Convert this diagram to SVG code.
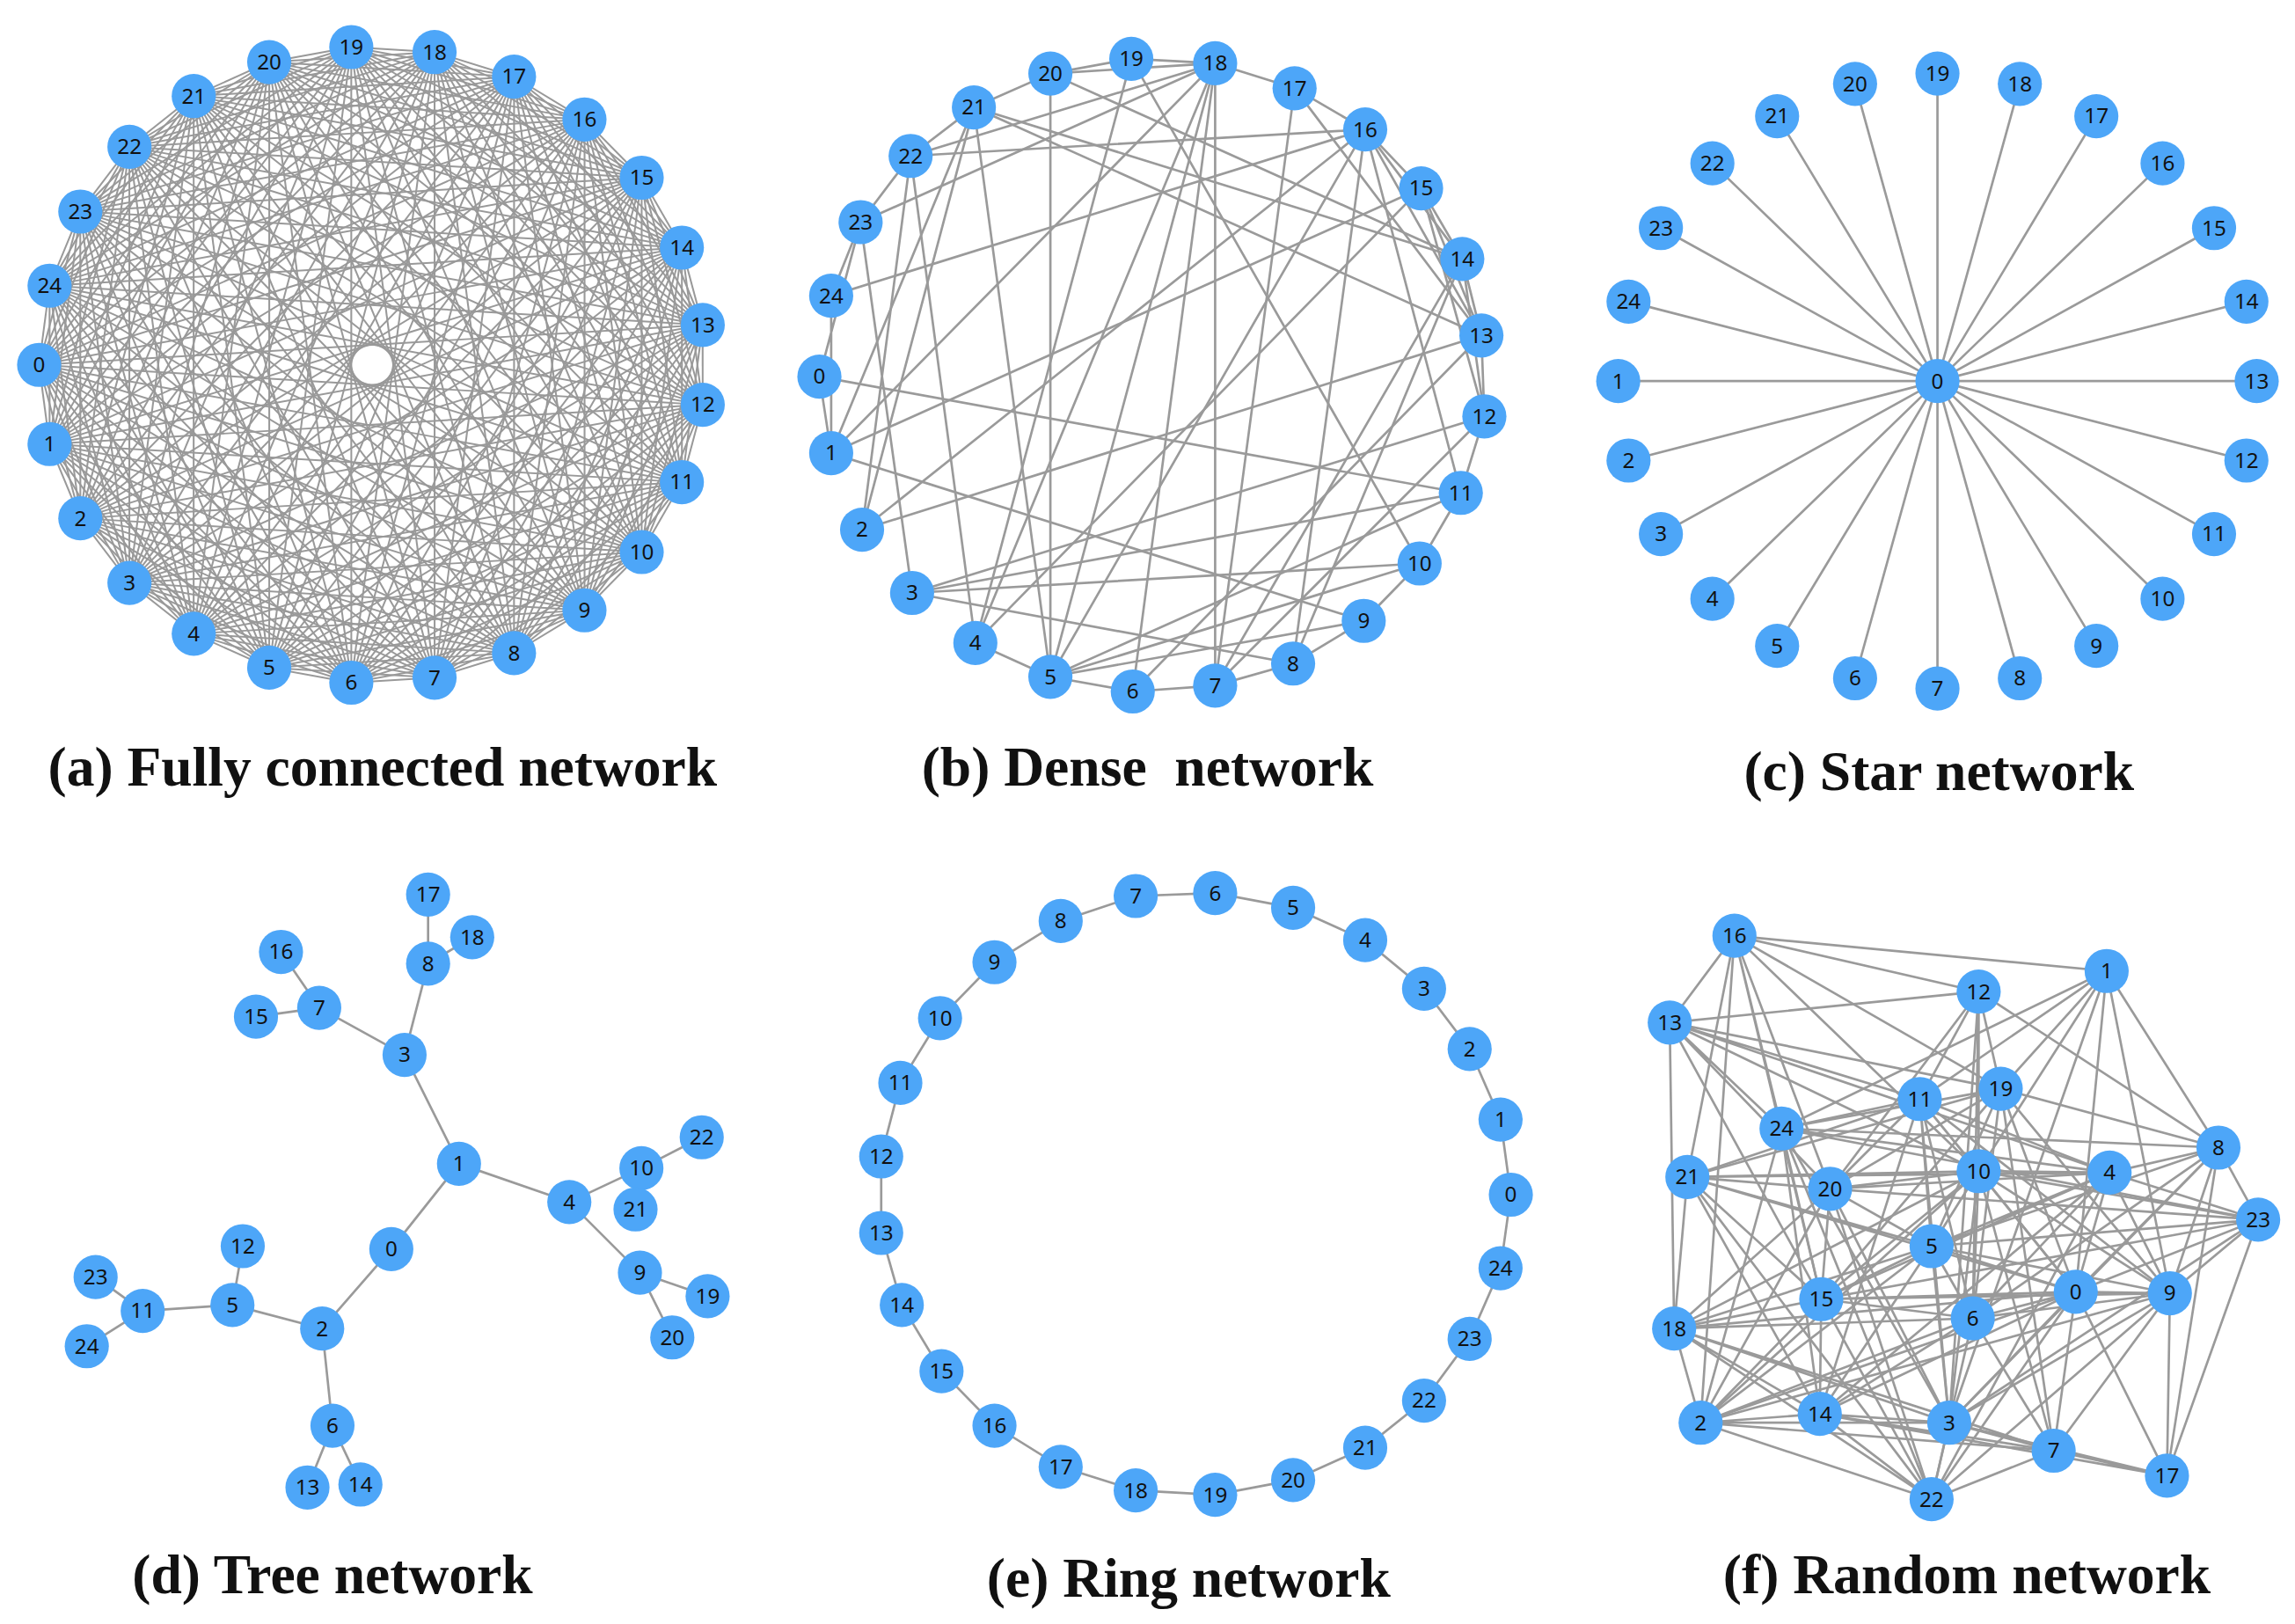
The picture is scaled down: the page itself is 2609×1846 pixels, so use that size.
<svg xmlns="http://www.w3.org/2000/svg" xmlns:xlink="http://www.w3.org/1999/xlink" width="2609" height="1846" viewBox="0 0 2609 1846">
<style>
.e{stroke:#9a9a9a;stroke-width:1.6;fill:none;stroke-linecap:round}
.ea{stroke:#999;stroke-width:1.2;fill:none}
circle{fill:#4da6f8}
.nd text{font-family:"Noto Sans","DejaVu Sans",sans-serif;font-size:14.5px;fill:#111;text-anchor:middle}
.ttl{font-family:"Liberation Serif","Times New Roman",serif;font-weight:bold;font-size:38px;fill:#111;text-anchor:middle}
</style>
<defs>
<g id="chords">
<line x1="-222" y1="0" x2="-215" y2="55.2"/><line x1="-222" y1="0" x2="-194.5" y2="107"/><line x1="-222" y1="0" x2="-161.8" y2="152"/><line x1="-222" y1="0" x2="-118.9" y2="187.4"/><line x1="-222" y1="0" x2="-68.6" y2="211.1"/><line x1="-222" y1="0" x2="-13.9" y2="221.6"/><line x1="-222" y1="0" x2="41.6" y2="218.1"/><line x1="-222" y1="0" x2="94.5" y2="200.9"/><line x1="-222" y1="0" x2="141.5" y2="171.1"/><line x1="-222" y1="0" x2="179.6" y2="130.5"/><line x1="-222" y1="0" x2="206.4" y2="81.7"/><line x1="-222" y1="0" x2="220.3" y2="27.8"/>
</g>
</defs>
<rect width="2609" height="1846" fill="#fff"/>
<g transform="scale(1.6724)">
<g id="connectors">
<g class="ea" transform="translate(253,248) scale(1.02,0.975)">
<use xlink:href="#chords"/><use xlink:href="#chords" transform="rotate(-14.4)"/><use xlink:href="#chords" transform="rotate(-28.8)"/><use xlink:href="#chords" transform="rotate(-43.2)"/><use xlink:href="#chords" transform="rotate(-57.6)"/><use xlink:href="#chords" transform="rotate(-72)"/><use xlink:href="#chords" transform="rotate(-86.4)"/><use xlink:href="#chords" transform="rotate(-100.8)"/><use xlink:href="#chords" transform="rotate(-115.2)"/><use xlink:href="#chords" transform="rotate(-129.6)"/><use xlink:href="#chords" transform="rotate(-144)"/><use xlink:href="#chords" transform="rotate(-158.4)"/><use xlink:href="#chords" transform="rotate(-172.8)"/><use xlink:href="#chords" transform="rotate(-187.2)"/><use xlink:href="#chords" transform="rotate(-201.6)"/><use xlink:href="#chords" transform="rotate(-216)"/><use xlink:href="#chords" transform="rotate(-230.4)"/><use xlink:href="#chords" transform="rotate(-244.8)"/><use xlink:href="#chords" transform="rotate(-259.2)"/><use xlink:href="#chords" transform="rotate(-273.6)"/><use xlink:href="#chords" transform="rotate(-288)"/><use xlink:href="#chords" transform="rotate(-302.4)"/><use xlink:href="#chords" transform="rotate(-316.8)"/><use xlink:href="#chords" transform="rotate(-331.2)"/><use xlink:href="#chords" transform="rotate(-345.6)"/>
</g>
<g class="e" id="b-edges">
<path d="M769 40L714 50M769 40L826 43M769 40L663 437M769 40L965 383"/>
<path d="M826 43L714 50M826 43L880 60M826 43L619 106M826 43L585 151M826 43L565 308M826 43L663 437M826 43L714 460M826 43L826 466M826 43L770 470"/>
<path d="M880 60L928 88M880 60L826 466M880 60L1007 228"/>
<path d="M928 88L966 128M928 88L714 460M928 88L586 360M928 88L619 106M928 88L565 201M928 88L879 451M928 88L993 335M928 88L1007 228M928 88L994 176"/>
<path d="M966 128L565 308M966 128L663 437M966 128L1007 228M966 128L1009 283M966 128L994 176"/>
<path d="M994 176L1007 228M994 176L1009 283M994 176L826 466M994 176L879 451"/>
<path d="M1007 228L1009 283M1007 228L586 360M1007 228L662 73M1007 228L770 470"/>
<path d="M1009 283L993 335M1009 283L620 403M1009 283L826 466"/>
<path d="M993 335L965 383M993 335L557 256M993 335L620 403M993 335L714 460"/>
<path d="M965 383L927 422M965 383L620 403M965 383L714 460"/>
<path d="M927 422L879 451M927 422L714 460M927 422L565 308"/>
<path d="M879 451L826 466M879 451L620 403M826 466L770 470M770 470L714 460"/>
<path d="M714 460L663 437M714 460L714 50M714 460L662 73M663 437L619 106"/>
<path d="M662 73L714 50M662 73L619 106M662 73L565 308M662 73L586 360M662 73L994 176"/>
<path d="M619 106L585 151M619 106L586 360M585 151L565 201M585 151L620 403M585 151L557 256M565 201L565 308M557 256L565 308M714 50L994 176"/>
</g>
<g class="e" id="c-edges">
<path d="M1317 259L1100 259M1317 259L1107 313M1317 259L1129 363M1317 259L1164 407M1317 259L1208 439M1317 259L1261 461M1317 259L1317 468M1317 259L1373 461M1317 259L1425 439M1317 259L1470 407M1317 259L1505 363M1317 259L1527 313M1317 259L1534 259M1317 259L1527 205M1317 259L1505 155M1317 259L1470 111M1317 259L1425 79M1317 259L1373 57M1317 259L1317 50M1317 259L1261 57M1317 259L1208 79M1317 259L1164 111M1317 259L1129 155M1317 259L1107 205"/>
</g>
<g class="e" id="d-edges">
<path d="M291 608L291 655M321 637L291 655M291 655L275 717M191 647L217 685M174 691L217 685M217 685L275 717M275 717L312 791M312 791L387 817M312 791L266 849M387 817L436 794M436 794L477 773M436 794L432 822M387 817L435 865M435 865L481 881M435 865L457 909M266 849L219 903M219 903L158 887M158 887L165 847M158 887L97 891M97 891L65 868M97 891L59 915M219 903L226 969M226 969L209 1011M226 969L245 1009"/>
</g>
<g class="e" id="e-edges">
<path d="M1027 812L1020 761L999 713L968 672L928 639L879 617L826 607L772 609L721 626L676 654L639 692L612 736L599 786L599 838L613 887L640 932L676 969L721 997L772 1013L826 1016L879 1006L928 984L968 952L999 910L1020 862Z"/>
</g>
<g class="e" id="f-edges">
<path d="M1179 636L1432 660M1179 636L1345 674M1179 636L1135 695M1179 636L1147 800M1179 636L1156 967M1179 636L1211 767M1179 636L1244 808M1179 636L1238 883M1179 636L1345 796M1179 636L1360 740"/>
<path d="M1432 660L1305 747M1432 660L1360 740M1432 660L1345 796M1432 660L1411 878M1432 660L1508 780M1432 660L1475 879M1432 660L1325 967M1432 660L1211 767"/>
<path d="M1345 674L1135 695M1345 674L1305 747M1345 674L1360 740M1345 674L1345 796M1345 674L1341 896M1345 674L1244 808M1345 674L1508 780M1345 674L1325 967"/>
<path d="M1135 695L1138 903M1135 695L1211 767M1135 695L1305 747M1135 695L1360 740M1135 695L1345 796M1135 695L1434 797M1135 695L1244 808M1135 695L1238 883"/>
<path d="M1305 747L1211 767M1305 747L1147 800M1305 747L1244 808M1305 747L1345 796M1305 747L1411 878M1305 747L1313 847M1305 747L1434 797M1305 747L1475 879M1305 747L1341 896M1305 747L1325 967M1305 747L1237 961"/>
<path d="M1360 740L1211 767M1360 740L1147 800M1360 740L1244 808M1360 740L1313 847M1360 740L1411 878M1360 740L1475 879M1360 740L1341 896M1360 740L1396 986M1360 740L1238 883M1360 740L1508 780"/>
<path d="M1211 767L1508 780M1211 767L1434 797M1211 767L1535 829M1211 767L1238 883M1211 767L1237 961M1211 767L1325 967M1211 767L1313 1019M1211 767L1156 967"/>
<path d="M1508 780L1434 797M1508 780L1535 829M1508 780L1411 878M1508 780L1475 879M1508 780L1473 1003M1508 780L1313 847M1508 780L1341 896M1508 780L1325 967"/>
<path d="M1147 800L1138 903M1147 800L1244 808M1147 800L1345 796M1147 800L1434 797M1147 800L1313 847M1147 800L1238 883M1147 800L1411 878M1147 800L1237 961M1147 800L1313 1019"/>
<path d="M1345 796L1244 808M1345 796L1434 797M1345 796L1535 829M1345 796L1313 847M1345 796L1238 883M1345 796L1411 878M1345 796L1475 879M1345 796L1341 896M1345 796L1325 967M1345 796L1396 986M1345 796L1138 903M1345 796L1156 967"/>
<path d="M1434 797L1244 808M1434 797L1535 829M1434 797L1313 847M1434 797L1411 878M1434 797L1475 879M1434 797L1238 883M1434 797L1237 961M1434 797L1313 1019M1434 797L1341 896"/>
<path d="M1244 808L1535 829M1244 808L1313 847M1244 808L1238 883M1244 808L1138 903M1244 808L1156 967M1244 808L1325 967M1244 808L1313 1019"/>
<path d="M1535 829L1313 847M1535 829L1411 878M1535 829L1475 879M1535 829L1473 1003M1535 829L1238 883M1535 829L1325 967"/>
<path d="M1313 847L1238 883M1313 847L1411 878M1313 847L1475 879M1313 847L1341 896M1313 847L1138 903M1313 847L1156 967M1313 847L1237 961M1313 847L1325 967"/>
<path d="M1238 883L1411 878M1238 883L1475 879M1238 883L1341 896M1238 883L1138 903M1238 883L1156 967M1238 883L1237 961M1238 883L1313 1019"/>
<path d="M1411 878L1475 879M1411 878L1341 896M1411 878L1138 903M1411 878L1237 961M1411 878L1325 967M1411 878L1396 986M1411 878L1473 1003M1411 878L1313 1019M1411 878L1156 967"/>
<path d="M1475 879L1341 896M1475 879L1325 967M1475 879L1396 986M1475 879L1313 1019M1475 879L1473 1003M1475 879L1156 967"/>
<path d="M1341 896L1138 903M1341 896L1156 967M1341 896L1237 961M1341 896L1313 1019M1341 896L1396 986"/>
<path d="M1138 903L1156 967M1138 903L1237 961M1138 903L1325 967M1138 903L1396 986M1138 903L1313 1019"/>
<path d="M1156 967L1237 961M1156 967L1325 967M1156 967L1313 1019M1156 967L1396 986"/>
<path d="M1237 961L1325 967M1237 961L1313 1019M1237 961L1396 986M1237 961L1473 1003M1325 967L1313 1019M1325 967L1396 986M1325 967L1473 1003M1396 986L1313 1019M1396 986L1473 1003"/>
</g>
</g>

<g id="nodes-a" class="nd">
<g id="a0"><circle cx="26.6" cy="248" r="15"/><text x="26.6" y="253">0</text></g>
<g id="a1"><circle cx="33.7" cy="301.8" r="15"/><text x="33.7" y="306.8">1</text></g>
<g id="a2"><circle cx="54.6" cy="352.3" r="15"/><text x="54.6" y="357.3">2</text></g>
<g id="a3"><circle cx="88" cy="396.2" r="15"/><text x="88" y="401.2">3</text></g>
<g id="a4"><circle cx="131.7" cy="430.7" r="15"/><text x="131.7" y="435.7">4</text></g>
<g id="a5"><circle cx="183" cy="453.8" r="15"/><text x="183" y="458.8">5</text></g>
<g id="a6"><circle cx="238.8" cy="464" r="15"/><text x="238.8" y="469">6</text></g>
<g id="a7"><circle cx="295.4" cy="460.6" r="15"/><text x="295.4" y="465.6">7</text></g>
<g id="a8"><circle cx="349.4" cy="443.9" r="15"/><text x="349.4" y="448.9">8</text></g>
<g id="a9"><circle cx="397.3" cy="414.8" r="15"/><text x="397.3" y="419.8">9</text></g>
<g id="a10"><circle cx="436.2" cy="375.2" r="15"/><text x="436.2" y="380.2">10</text></g>
<g id="a11"><circle cx="463.5" cy="327.7" r="15"/><text x="463.5" y="332.7">11</text></g>
<g id="a12"><circle cx="477.7" cy="275.1" r="15"/><text x="477.7" y="280.1">12</text></g>
<g id="a13"><circle cx="477.7" cy="220.9" r="15"/><text x="477.7" y="225.9">13</text></g>
<g id="a14"><circle cx="463.5" cy="168.3" r="15"/><text x="463.5" y="173.3">14</text></g>
<g id="a15"><circle cx="436.2" cy="120.8" r="15"/><text x="436.2" y="125.8">15</text></g>
<g id="a16"><circle cx="397.3" cy="81.2" r="15"/><text x="397.3" y="86.2">16</text></g>
<g id="a17"><circle cx="349.4" cy="52.1" r="15"/><text x="349.4" y="57.1">17</text></g>
<g id="a18"><circle cx="295.4" cy="35.4" r="15"/><text x="295.4" y="40.4">18</text></g>
<g id="a19"><circle cx="238.8" cy="32" r="15"/><text x="238.8" y="37">19</text></g>
<g id="a20"><circle cx="183" cy="42.2" r="15"/><text x="183" y="47.2">20</text></g>
<g id="a21"><circle cx="131.7" cy="65.3" r="15"/><text x="131.7" y="70.3">21</text></g>
<g id="a22"><circle cx="88" cy="99.8" r="15"/><text x="88" y="104.8">22</text></g>
<g id="a23"><circle cx="54.6" cy="143.8" r="15"/><text x="54.6" y="148.8">23</text></g>
<g id="a24"><circle cx="33.7" cy="194.2" r="15"/><text x="33.7" y="199.2">24</text></g>
</g>

<g id="nodes-b" class="nd">
<g id="b0"><circle cx="557" cy="256" r="15"/><text x="557" y="261">0</text></g>
<g id="b1"><circle cx="565" cy="308" r="15"/><text x="565" y="313">1</text></g>
<g id="b2"><circle cx="586" cy="360" r="15"/><text x="586" y="365">2</text></g>
<g id="b3"><circle cx="620" cy="403" r="15"/><text x="620" y="408">3</text></g>
<g id="b4"><circle cx="663" cy="437" r="15"/><text x="663" y="442">4</text></g>
<g id="b5"><circle cx="714" cy="460" r="15"/><text x="714" y="465">5</text></g>
<g id="b6"><circle cx="770" cy="470" r="15"/><text x="770" y="475">6</text></g>
<g id="b7"><circle cx="826" cy="466" r="15"/><text x="826" y="471">7</text></g>
<g id="b8"><circle cx="879" cy="451" r="15"/><text x="879" y="456">8</text></g>
<g id="b9"><circle cx="927" cy="422" r="15"/><text x="927" y="427">9</text></g>
<g id="b10"><circle cx="965" cy="383" r="15"/><text x="965" y="388">10</text></g>
<g id="b11"><circle cx="993" cy="335" r="15"/><text x="993" y="340">11</text></g>
<g id="b12"><circle cx="1009" cy="283" r="15"/><text x="1009" y="288">12</text></g>
<g id="b13"><circle cx="1007" cy="228" r="15"/><text x="1007" y="233">13</text></g>
<g id="b14"><circle cx="994" cy="176" r="15"/><text x="994" y="181">14</text></g>
<g id="b15"><circle cx="966" cy="128" r="15"/><text x="966" y="133">15</text></g>
<g id="b16"><circle cx="928" cy="88" r="15"/><text x="928" y="93">16</text></g>
<g id="b17"><circle cx="880" cy="60" r="15"/><text x="880" y="65">17</text></g>
<g id="b18"><circle cx="826" cy="43" r="15"/><text x="826" y="48">18</text></g>
<g id="b19"><circle cx="769" cy="40" r="15"/><text x="769" y="45">19</text></g>
<g id="b20"><circle cx="714" cy="50" r="15"/><text x="714" y="55">20</text></g>
<g id="b21"><circle cx="662" cy="73" r="15"/><text x="662" y="78">21</text></g>
<g id="b22"><circle cx="619" cy="106" r="15"/><text x="619" y="111">22</text></g>
<g id="b23"><circle cx="585" cy="151" r="15"/><text x="585" y="156">23</text></g>
<g id="b24"><circle cx="565" cy="201" r="15"/><text x="565" y="206">24</text></g>
</g>

<g id="nodes-c" class="nd">
<g id="c0"><circle cx="1317" cy="259" r="15"/><text x="1317" y="264">0</text></g>
<g id="c1"><circle cx="1100" cy="259" r="15"/><text x="1100" y="264">1</text></g>
<g id="c2"><circle cx="1107" cy="313" r="15"/><text x="1107" y="318">2</text></g>
<g id="c3"><circle cx="1129" cy="363" r="15"/><text x="1129" y="368">3</text></g>
<g id="c4"><circle cx="1164" cy="407" r="15"/><text x="1164" y="412">4</text></g>
<g id="c5"><circle cx="1208" cy="439" r="15"/><text x="1208" y="444">5</text></g>
<g id="c6"><circle cx="1261" cy="461" r="15"/><text x="1261" y="466">6</text></g>
<g id="c7"><circle cx="1317" cy="468" r="15"/><text x="1317" y="473">7</text></g>
<g id="c8"><circle cx="1373" cy="461" r="15"/><text x="1373" y="466">8</text></g>
<g id="c9"><circle cx="1425" cy="439" r="15"/><text x="1425" y="444">9</text></g>
<g id="c10"><circle cx="1470" cy="407" r="15"/><text x="1470" y="412">10</text></g>
<g id="c11"><circle cx="1505" cy="363" r="15"/><text x="1505" y="368">11</text></g>
<g id="c12"><circle cx="1527" cy="313" r="15"/><text x="1527" y="318">12</text></g>
<g id="c13"><circle cx="1534" cy="259" r="15"/><text x="1534" y="264">13</text></g>
<g id="c14"><circle cx="1527" cy="205" r="15"/><text x="1527" y="210">14</text></g>
<g id="c15"><circle cx="1505" cy="155" r="15"/><text x="1505" y="160">15</text></g>
<g id="c16"><circle cx="1470" cy="111" r="15"/><text x="1470" y="116">16</text></g>
<g id="c17"><circle cx="1425" cy="79" r="15"/><text x="1425" y="84">17</text></g>
<g id="c18"><circle cx="1373" cy="57" r="15"/><text x="1373" y="62">18</text></g>
<g id="c19"><circle cx="1317" cy="50" r="15"/><text x="1317" y="55">19</text></g>
<g id="c20"><circle cx="1261" cy="57" r="15"/><text x="1261" y="62">20</text></g>
<g id="c21"><circle cx="1208" cy="79" r="15"/><text x="1208" y="84">21</text></g>
<g id="c22"><circle cx="1164" cy="111" r="15"/><text x="1164" y="116">22</text></g>
<g id="c23"><circle cx="1129" cy="155" r="15"/><text x="1129" y="160">23</text></g>
<g id="c24"><circle cx="1107" cy="205" r="15"/><text x="1107" y="210">24</text></g>
</g>

<g id="nodes-d" class="nd">
<g id="d0"><circle cx="266" cy="849" r="15"/><text x="266" y="854">0</text></g>
<g id="d1"><circle cx="312" cy="791" r="15"/><text x="312" y="796">1</text></g>
<g id="d2"><circle cx="219" cy="903" r="15"/><text x="219" y="908">2</text></g>
<g id="d3"><circle cx="275" cy="717" r="15"/><text x="275" y="722">3</text></g>
<g id="d4"><circle cx="387" cy="817" r="15"/><text x="387" y="822">4</text></g>
<g id="d5"><circle cx="158" cy="887" r="15"/><text x="158" y="892">5</text></g>
<g id="d6"><circle cx="226" cy="969" r="15"/><text x="226" y="974">6</text></g>
<g id="d7"><circle cx="217" cy="685" r="15"/><text x="217" y="690">7</text></g>
<g id="d8"><circle cx="291" cy="655" r="15"/><text x="291" y="660">8</text></g>
<g id="d9"><circle cx="435" cy="865" r="15"/><text x="435" y="870">9</text></g>
<g id="d10"><circle cx="436" cy="794" r="15"/><text x="436" y="799">10</text></g>
<g id="d11"><circle cx="97" cy="891" r="15"/><text x="97" y="896">11</text></g>
<g id="d12"><circle cx="165" cy="847" r="15"/><text x="165" y="852">12</text></g>
<g id="d13"><circle cx="209" cy="1011" r="15"/><text x="209" y="1016">13</text></g>
<g id="d14"><circle cx="245" cy="1009" r="15"/><text x="245" y="1014">14</text></g>
<g id="d15"><circle cx="174" cy="691" r="15"/><text x="174" y="696">15</text></g>
<g id="d16"><circle cx="191" cy="647" r="15"/><text x="191" y="652">16</text></g>
<g id="d17"><circle cx="291" cy="608" r="15"/><text x="291" y="613">17</text></g>
<g id="d18"><circle cx="321" cy="637" r="15"/><text x="321" y="642">18</text></g>
<g id="d19"><circle cx="481" cy="881" r="15"/><text x="481" y="886">19</text></g>
<g id="d20"><circle cx="457" cy="909" r="15"/><text x="457" y="914">20</text></g>
<g id="d21"><circle cx="432" cy="822" r="15"/><text x="432" y="827">21</text></g>
<g id="d22"><circle cx="477" cy="773" r="15"/><text x="477" y="778">22</text></g>
<g id="d23"><circle cx="65" cy="868" r="15"/><text x="65" y="873">23</text></g>
<g id="d24"><circle cx="59" cy="915" r="15"/><text x="59" y="920">24</text></g>
</g>

<g id="nodes-e" class="nd">
<g id="e0"><circle cx="1027" cy="812" r="15"/><text x="1027" y="817">0</text></g>
<g id="e1"><circle cx="1020" cy="761" r="15"/><text x="1020" y="766">1</text></g>
<g id="e2"><circle cx="999" cy="713" r="15"/><text x="999" y="718">2</text></g>
<g id="e3"><circle cx="968" cy="672" r="15"/><text x="968" y="677">3</text></g>
<g id="e4"><circle cx="928" cy="639" r="15"/><text x="928" y="644">4</text></g>
<g id="e5"><circle cx="879" cy="617" r="15"/><text x="879" y="622">5</text></g>
<g id="e6"><circle cx="826" cy="607" r="15"/><text x="826" y="612">6</text></g>
<g id="e7"><circle cx="772" cy="609" r="15"/><text x="772" y="614">7</text></g>
<g id="e8"><circle cx="721" cy="626" r="15"/><text x="721" y="631">8</text></g>
<g id="e9"><circle cx="676" cy="654" r="15"/><text x="676" y="659">9</text></g>
<g id="e10"><circle cx="639" cy="692" r="15"/><text x="639" y="697">10</text></g>
<g id="e11"><circle cx="612" cy="736" r="15"/><text x="612" y="741">11</text></g>
<g id="e12"><circle cx="599" cy="786" r="15"/><text x="599" y="791">12</text></g>
<g id="e13"><circle cx="599" cy="838" r="15"/><text x="599" y="843">13</text></g>
<g id="e14"><circle cx="613" cy="887" r="15"/><text x="613" y="892">14</text></g>
<g id="e15"><circle cx="640" cy="932" r="15"/><text x="640" y="937">15</text></g>
<g id="e16"><circle cx="676" cy="969" r="15"/><text x="676" y="974">16</text></g>
<g id="e17"><circle cx="721" cy="997" r="15"/><text x="721" y="1002">17</text></g>
<g id="e18"><circle cx="772" cy="1013" r="15"/><text x="772" y="1018">18</text></g>
<g id="e19"><circle cx="826" cy="1016" r="15"/><text x="826" y="1021">19</text></g>
<g id="e20"><circle cx="879" cy="1006" r="15"/><text x="879" y="1011">20</text></g>
<g id="e21"><circle cx="928" cy="984" r="15"/><text x="928" y="989">21</text></g>
<g id="e22"><circle cx="968" cy="952" r="15"/><text x="968" y="957">22</text></g>
<g id="e23"><circle cx="999" cy="910" r="15"/><text x="999" y="915">23</text></g>
<g id="e24"><circle cx="1020" cy="862" r="15"/><text x="1020" y="867">24</text></g>
</g>

<g id="nodes-f" class="nd">
<g id="f0"><circle cx="1411" cy="878" r="15"/><text x="1411" y="883">0</text></g>
<g id="f1"><circle cx="1432" cy="660" r="15"/><text x="1432" y="665">1</text></g>
<g id="f2"><circle cx="1156" cy="967" r="15"/><text x="1156" y="972">2</text></g>
<g id="f3"><circle cx="1325" cy="967" r="15"/><text x="1325" y="972">3</text></g>
<g id="f4"><circle cx="1434" cy="797" r="15"/><text x="1434" y="802">4</text></g>
<g id="f5"><circle cx="1313" cy="847" r="15"/><text x="1313" y="852">5</text></g>
<g id="f6"><circle cx="1341" cy="896" r="15"/><text x="1341" y="901">6</text></g>
<g id="f7"><circle cx="1396" cy="986" r="15"/><text x="1396" y="991">7</text></g>
<g id="f8"><circle cx="1508" cy="780" r="15"/><text x="1508" y="785">8</text></g>
<g id="f9"><circle cx="1475" cy="879" r="15"/><text x="1475" y="884">9</text></g>
<g id="f10"><circle cx="1345" cy="796" r="15"/><text x="1345" y="801">10</text></g>
<g id="f11"><circle cx="1305" cy="747" r="15"/><text x="1305" y="752">11</text></g>
<g id="f12"><circle cx="1345" cy="674" r="15"/><text x="1345" y="679">12</text></g>
<g id="f13"><circle cx="1135" cy="695" r="15"/><text x="1135" y="700">13</text></g>
<g id="f14"><circle cx="1237" cy="961" r="15"/><text x="1237" y="966">14</text></g>
<g id="f15"><circle cx="1238" cy="883" r="15"/><text x="1238" y="888">15</text></g>
<g id="f16"><circle cx="1179" cy="636" r="15"/><text x="1179" y="641">16</text></g>
<g id="f17"><circle cx="1473" cy="1003" r="15"/><text x="1473" y="1008">17</text></g>
<g id="f18"><circle cx="1138" cy="903" r="15"/><text x="1138" y="908">18</text></g>
<g id="f19"><circle cx="1360" cy="740" r="15"/><text x="1360" y="745">19</text></g>
<g id="f20"><circle cx="1244" cy="808" r="15"/><text x="1244" y="813">20</text></g>
<g id="f21"><circle cx="1147" cy="800" r="15"/><text x="1147" y="805">21</text></g>
<g id="f22"><circle cx="1313" cy="1019" r="15"/><text x="1313" y="1024">22</text></g>
<g id="f23"><circle cx="1535" cy="829" r="15"/><text x="1535" y="834">23</text></g>
<g id="f24"><circle cx="1211" cy="767" r="15"/><text x="1211" y="772">24</text></g>
</g>

<g id="titles">
<text class="ttl" x="260" y="534">(a) Fully connected network</text>
<text class="ttl" x="780" y="534" xml:space="preserve">(b) Dense  network</text>
<text class="ttl" x="1318" y="537">(c) Star network</text>
<text class="ttl" x="226" y="1083">(d) Tree network</text>
<text class="ttl" x="808" y="1085">(e) Ring network</text>
<text class="ttl" x="1337" y="1083">(f) Random network</text>
</g>
</g>
</svg>
